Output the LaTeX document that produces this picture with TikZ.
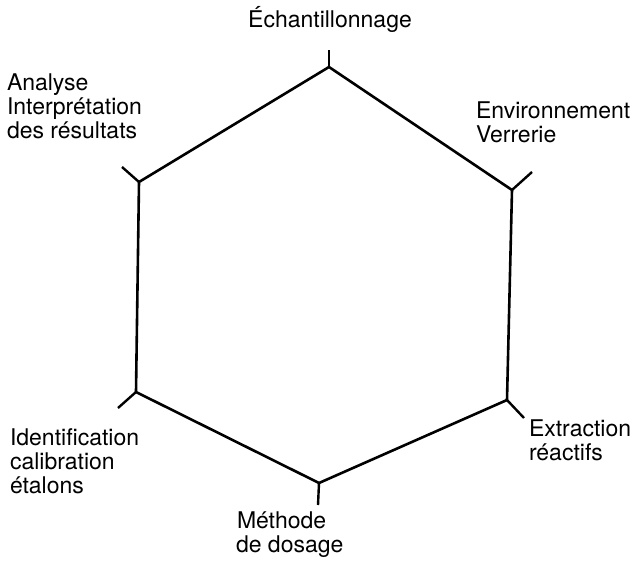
\documentclass[tikz,border=0pt]{standalone}
\usepackage{fontspec}
\setmainfont{TeX Gyre Heros}
\begin{document}
\begin{tikzpicture}[x=1pt,y=-1pt,
  edge/.style={line width=2.6pt, line join=miter},
  tickline/.style={line width=2.4pt},
  lbl/.style={font=\fontsize{23}{24}\selectfont, inner sep=0pt, outer sep=0pt}]
\useasboundingbox (0,0) rectangle (634,561);
% hexagon vertices
\coordinate (T) at (329,67);
\coordinate (UR) at (512,190);
\coordinate (LR) at (507,400);
\coordinate (B) at (319,483);
\coordinate (LL) at (136,392);
\coordinate (UL) at (139,182);
% tick ends
\coordinate (Tt) at (329,50);
\coordinate (URt) at (532,172);
\coordinate (LRt) at (524,418);
\coordinate (Bt) at (318,505);
\coordinate (LLt) at (118,408);
\coordinate (ULt) at (122,167);
\draw[edge] (T) -- (UR) -- (LR) -- (B) -- (LL) -- (UL) -- cycle;
\draw[tickline] (T) -- (Tt);
\draw[tickline] (UR) -- (URt);
\draw[tickline] (LR) -- (LRt);
\draw[tickline] (B) -- (Bt);
\draw[tickline] (LL) -- (LLt);
\draw[tickline] (UL) -- (ULt);
% labels
\node[lbl, anchor=base] (ech) at (330,28) {Échantillonnage};
\node[lbl, anchor=base west] (env1) at (476,119) {Environnement};
\node[lbl, anchor=base west] (env2) at (476,143) {Verrerie};
\node[lbl, anchor=base west] (ext1) at (529,436) {Extraction};
\node[lbl, anchor=base west] (ext2) at (529,460) {réactifs};
\node[lbl, anchor=base west] (met1) at (237,528) {Méthode};
\node[lbl, anchor=base west] (met2) at (236,552) {de dosage};
\node[lbl, anchor=base west] (id1) at (10,445) {Identification};
\node[lbl, anchor=base west] (id2) at (10,469) {calibration};
\node[lbl, anchor=base west] (id3) at (10,493) {étalons};
\node[lbl, anchor=base west] (an1) at (7,91) {Analyse};
\node[lbl, anchor=base west] (an2) at (7,115) {Interprétation};
\node[lbl, anchor=base west] (an3) at (7,139) {des résultats};
\end{tikzpicture}
\end{document}
